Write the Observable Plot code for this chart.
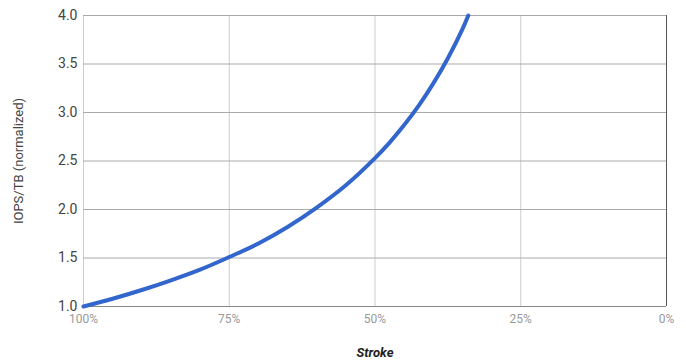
<!DOCTYPE html>
<html>
<head>
<meta charset="utf-8">
<script src="https://cdn.jsdelivr.net/npm/d3@7"></script>
<script src="https://cdn.jsdelivr.net/npm/@observablehq/plot@0.6"></script>
<style>
  html, body { margin: 0; padding: 0; background: #fff; }
  #chart { width: 686px; height: 363px; }
</style>
</head>
<body>
<div id="chart"></div>
<script>
const stroke = [100, 95, 90, 85, 80, 75, 70, 65, 60, 55, 50, 47.5, 45, 42.5, 40, 37.5, 35, 34];
const iopsPerTB = [1.0, 1.08, 1.17, 1.27, 1.38, 1.51, 1.65, 1.82, 2.02, 2.25, 2.53, 2.69, 2.87, 3.07, 3.30, 3.56, 3.86, 4.0];
const xTicks = [100, 75, 50, 25, 0];
const yTicks = [1.0, 1.5, 2.0, 2.5, 3.0, 3.5, 4.0];

const data = stroke.map((s, i) => ({stroke: s, value: iopsPerTB[i]}));

const chart = Plot.plot({
  width: 686,
  height: 363,
  marginLeft: 83,
  marginRight: 20,
  marginTop: 15,
  marginBottom: 57,
  style: {fontFamily: "Roboto, 'Open Sans', sans-serif", background: "#fff"},
  x: {domain: [100, 0], ticks: xTicks, tickFormat: d => d + "%", label: null},
  y: {domain: [1, 4], ticks: yTicks, tickFormat: d => d.toFixed(1), label: null},
  marks: [
    Plot.gridX(xTicks, {stroke: "#cccccc", strokeOpacity: 1, strokeWidth: 1}),
    Plot.gridY(yTicks, {stroke: "#aaaaaa", strokeOpacity: 1, strokeWidth: 1}),
    Plot.ruleX([0], {stroke: "#555", strokeWidth: 1}),
    Plot.ruleY([1], {stroke: "#888", strokeWidth: 1}),
    Plot.axisY(yTicks, {tickSize: 0, tickPadding: 6, fontSize: 14, fill: "#444", tickFormat: d => d.toFixed(1)}),
    Plot.axisX(xTicks, {tickSize: 0, tickPadding: 8, fontSize: 12, fill: "#999", tickFormat: d => d + "%"}),
    Plot.line(data, {x: "stroke", y: "value", stroke: "#3366cc", strokeWidth: 4, curve: "catmull-rom"}),
    Plot.text(["Stroke"], {frameAnchor: "bottom", dy: 50, fontSize: 13, fontStyle: "italic", fontWeight: "bold", fill: "#222"}),
    Plot.text(["IOPS/TB (normalized)"], {frameAnchor: "left", textAnchor: "middle", dx: -65, rotate: -90, fontSize: 13, fill: "#444"})
  ]
});
document.getElementById("chart").appendChild(chart);
</script>
</body>
</html>
